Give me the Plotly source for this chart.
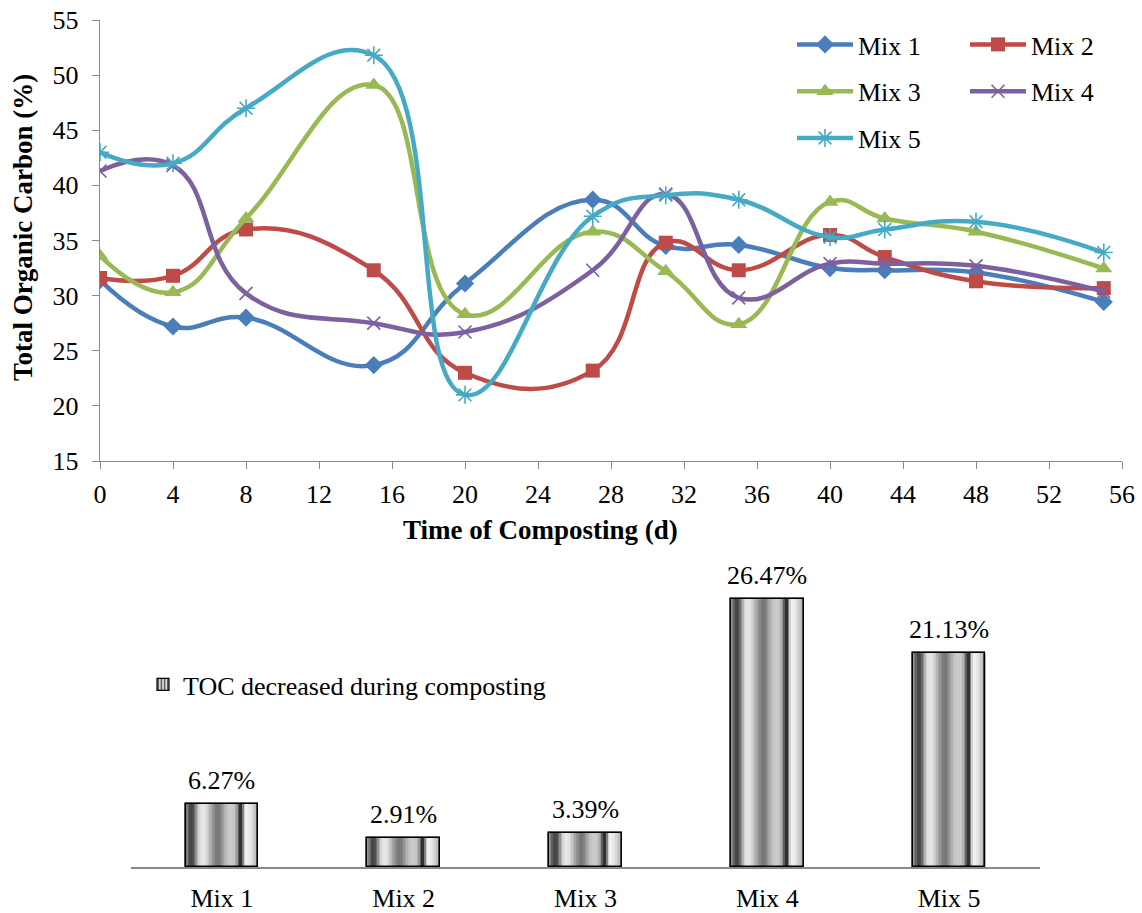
import numpy as np
import plotly.graph_objects as go

# ---- data -------------------------------------------------------------
days = [0, 4, 8, 15, 20, 27, 31, 35, 40, 43, 48, 55]

mix1 = [31.4, 27.2, 28.0, 23.7, 31.1, 38.7, 34.5, 34.6, 32.5, 32.3, 32.1, 29.43]
mix2 = [31.6, 31.8, 36.0, 32.3, 23.0, 23.2, 34.8, 32.3, 35.5, 33.5, 31.3, 30.68]
mix3 = [33.6, 30.3, 37.0, 49.1, 28.3, 35.8, 32.2, 27.4, 38.5, 37.0, 35.8, 32.46]
mix4 = [41.3, 41.8, 30.2, 27.5, 26.7, 32.3, 39.2, 29.8, 32.9, 32.9, 32.7, 30.37]
mix5 = [43.0, 42.0, 47.0, 51.8, 21.0, 37.2, 39.1, 38.7, 35.3, 36.0, 36.7, 33.91]

mixes = ["Mix 1", "Mix 2", "Mix 3", "Mix 4", "Mix 5"]
toc_decrease = [6.27, 2.91, 3.39, 26.47, 21.13]

# ---- styling ----------------------------------------------------------
W, H = 1142, 913
SERIF = "Liberation Serif, Times New Roman, serif"
FS = 26
AXIS_GREY = "#898989"

series_style = [
    ("Mix 1", mix1, "#4A7EBB", "diamond", 14, "legend"),
    ("Mix 2", mix2, "#BE4B48", "square", 14, "legend2"),
    ("Mix 3", mix3, "#98B954", "triangle-up", 15, "legend"),
    ("Mix 4", mix4, "#7D60A0", "x-thin-open", 13, "legend2"),
    ("Mix 5", mix5, "#46AAC5", "asterisk-open", 15, "legend"),
]


def px_x(p):
    return p / W


def px_y(p):
    return 1 - p / H


def tfont(size=FS):
    return dict(family=SERIF, size=size, color="black")


fig = go.Figure()

# ---- line chart: TOC over time ---------------------------------------
for name, vals, color, symbol, size, leg in series_style:
    open_marker = symbol.endswith("open")
    fig.add_trace(go.Scatter(
        x=days, y=vals, name=name, mode="lines+markers",
        line=dict(color=color, width=4.5, shape="spline", smoothing=1.3),
        marker=dict(symbol=symbol, size=size, color=color,
                    line=dict(color=color, width=1.6 if open_marker else 0)),
        xaxis="x", yaxis="y", legend=leg, legendgroup=name,
    ))

# ---- bar chart: TOC decrease -----------------------------------------
bar_w = 0.4
# grey profile across a bar (fraction of width -> grey level) for the
# cylindrical striped fill
stops_f = [0.0, 0.04, 0.08, 0.12, 0.16, 0.20, 0.24, 0.28, 0.32, 0.36, 0.40,
           0.44, 0.48, 0.52, 0.56, 0.60, 0.64, 0.68, 0.72, 0.755, 0.785, 0.815,
           0.84, 0.88, 0.92, 0.96, 1.0]
stops_g = [0xa8, 0x70, 0x40, 0x50, 0x98, 0xd8, 0xe8, 0xe2, 0xc8, 0xa8, 0x8c,
           0x76, 0x7a, 0x9c, 0xb8, 0xc8, 0xcc, 0xc4, 0x98, 0x30, 0x30, 0xc0,
           0xf0, 0xec, 0xdc, 0xc4, 0xb0]
n_strips = 48
dw = bar_w / n_strips

# legend entry / base fill
fig.add_trace(go.Bar(
    x=mixes, y=toc_decrease, name="TOC decreased during composting",
    width=bar_w,
    marker=dict(color="#c8c8c8", line=dict(color="black", width=1.2),
                pattern=dict(shape="|", fgcolor="#505050", bgcolor="#d8d8d8",
                             size=4, solidity=0.45)),
    xaxis="x2", yaxis="y2", legend="legend3", hoverinfo="skip",
))
for k in range(n_strips):
    f = (k + 0.5) / n_strips
    g = int(round(np.interp(f, stops_f, stops_g)))
    fig.add_trace(go.Bar(
        x=mixes, y=toc_decrease, width=dw * 1.25,
        offset=-bar_w / 2 + k * dw - (dw * 0.125 if k else 0),
        marker=dict(color=f"rgb({g},{g},{g})", line=dict(width=0)),
        showlegend=False, xaxis="x2", yaxis="y2", hoverinfo="skip",
    ))
fig.add_trace(go.Bar(
    x=mixes, y=toc_decrease, width=bar_w,
    marker=dict(color="rgba(0,0,0,0)", line=dict(color="black", width=1.6)),
    showlegend=False, xaxis="x2", yaxis="y2",
))

annotations = [
    dict(x=m, y=v, xref="x2", yref="y2", text=f"{v:.2f}%", showarrow=False,
         xanchor="center", yanchor="bottom", yshift=7, font=tfont())
    for m, v in zip(mixes, toc_decrease)
]
annotations += [
    dict(x=px_x(23), y=px_y(228), xref="paper", yref="paper",
         xanchor="center", yanchor="middle",
         text="<b>Total Organic Carbon (%)</b>", textangle=-90, showarrow=False,
         font=tfont(27)),
    dict(x=px_x(540), y=px_y(530), xref="paper", yref="paper",
         xanchor="center", yanchor="middle",
         text="<b>Time of Composting (d)</b>", showarrow=False,
         font=tfont(27)),
]

legend_common = dict(
    font=tfont(), bgcolor="rgba(0,0,0,0)", borderwidth=0,
    traceorder="grouped", tracegroupgap=10, itemwidth=56,
    xanchor="left", yanchor="top",
)

axis_common = dict(showgrid=False, zeroline=False, showline=True,
                   linecolor=AXIS_GREY, automargin=False, tickfont=tfont())

fig.update_layout(
    template="none",
    width=W, height=H,
    margin=dict(l=0, r=0, t=0, b=0, autoexpand=False),
    paper_bgcolor="white", plot_bgcolor="white",
    barmode="overlay", bargap=0,
    showlegend=True,
    font=tfont(),
    xaxis=dict(domain=[px_x(100), px_x(1122)], range=[0, 56], dtick=4, tick0=0,
               linewidth=1.4, ticks="outside", ticklen=7, tickcolor=AXIS_GREY,
               tickwidth=1.4, anchor="y", ticklabelstandoff=3, **axis_common),
    yaxis=dict(domain=[px_y(461), px_y(20)], range=[15, 55], dtick=5, tick0=15,
               linewidth=1.4, ticks="outside", ticklen=7, tickcolor=AXIS_GREY,
               tickwidth=1.4, anchor="x", ticklabelstandoff=8, **axis_common),
    xaxis2=dict(domain=[px_x(131), px_x(1040)], type="category", anchor="y2",
                linewidth=1.6, ticks="", ticklabelstandoff=7, **axis_common),
    yaxis2=dict(domain=[px_y(867), px_y(583)], range=[0, 28.05], anchor="x2",
                visible=False, showgrid=False, zeroline=False),
    legend=dict(x=px_x(792), y=px_y(21), **legend_common),
    legend2=dict(x=px_x(965), y=px_y(21), **legend_common),
    legend3=dict(x=px_x(143), y=px_y(661), font=tfont(),
                 bgcolor="rgba(0,0,0,0)", xanchor="left", yanchor="top"),
    annotations=annotations,
)

fig.write_html("out.html")
